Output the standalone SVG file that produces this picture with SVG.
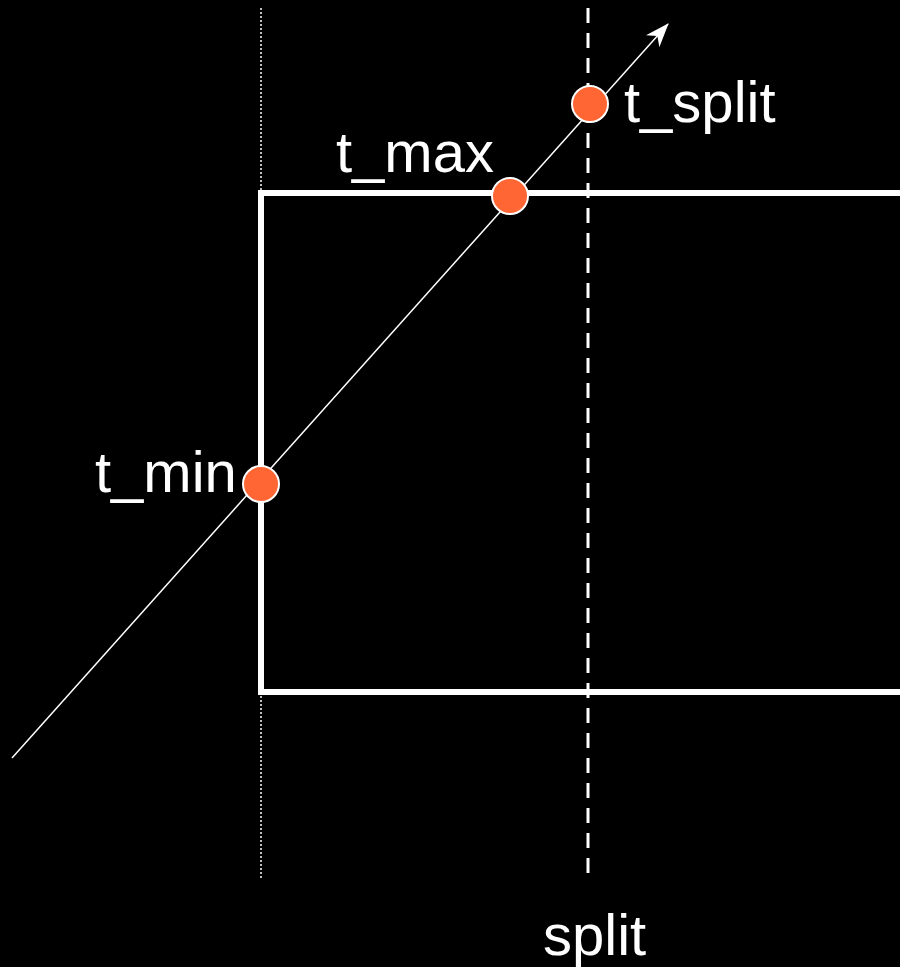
<svg xmlns="http://www.w3.org/2000/svg" width="900" height="967" viewBox="0 0 900 967">
<style>
.lbl{font-family:"Liberation Sans",Arial,sans-serif;font-size:58px;fill:#fff}
.pt{fill:#FF6633;stroke:#fff;stroke-width:2}
</style>
<defs>
<marker id="ah" markerWidth="24" markerHeight="18" refX="23" refY="9" orient="auto" markerUnits="userSpaceOnUse" viewBox="0 0 24 18">
<path d="M0,0 L24,9 L0,18 L7,9 Z" fill="#fff"/>
</marker>
</defs>
<rect width="900" height="967" fill="#000"/>
<g id="connectors">
<line x1="261" y1="8" x2="261" y2="880" stroke="#fff" stroke-width="1.5" stroke-dasharray="2,2"/>
<line x1="588" y1="8" x2="588" y2="880" stroke="#fff" stroke-width="3" stroke-dasharray="15,10"/>
<path d="M906,193 H261 V692 H906" fill="none" stroke="#fff" stroke-width="6"/>
<line x1="12" y1="758" x2="668" y2="24" stroke="#fff" stroke-width="1.5" marker-end="url(#ah)"/>
</g>
<g id="t_min"><circle class="pt" cx="261" cy="484" r="18"/><text class="lbl" x="95" y="492">t_min</text></g>
<g id="t_max"><circle class="pt" cx="510" cy="196" r="18"/><text class="lbl" x="336" y="172">t_max</text></g>
<g id="t_split"><circle class="pt" cx="590" cy="104" r="18"/><text class="lbl" x="624" y="122">t_split</text></g>
<g id="split"><text class="lbl" x="543" y="955">split</text></g>
</svg>
